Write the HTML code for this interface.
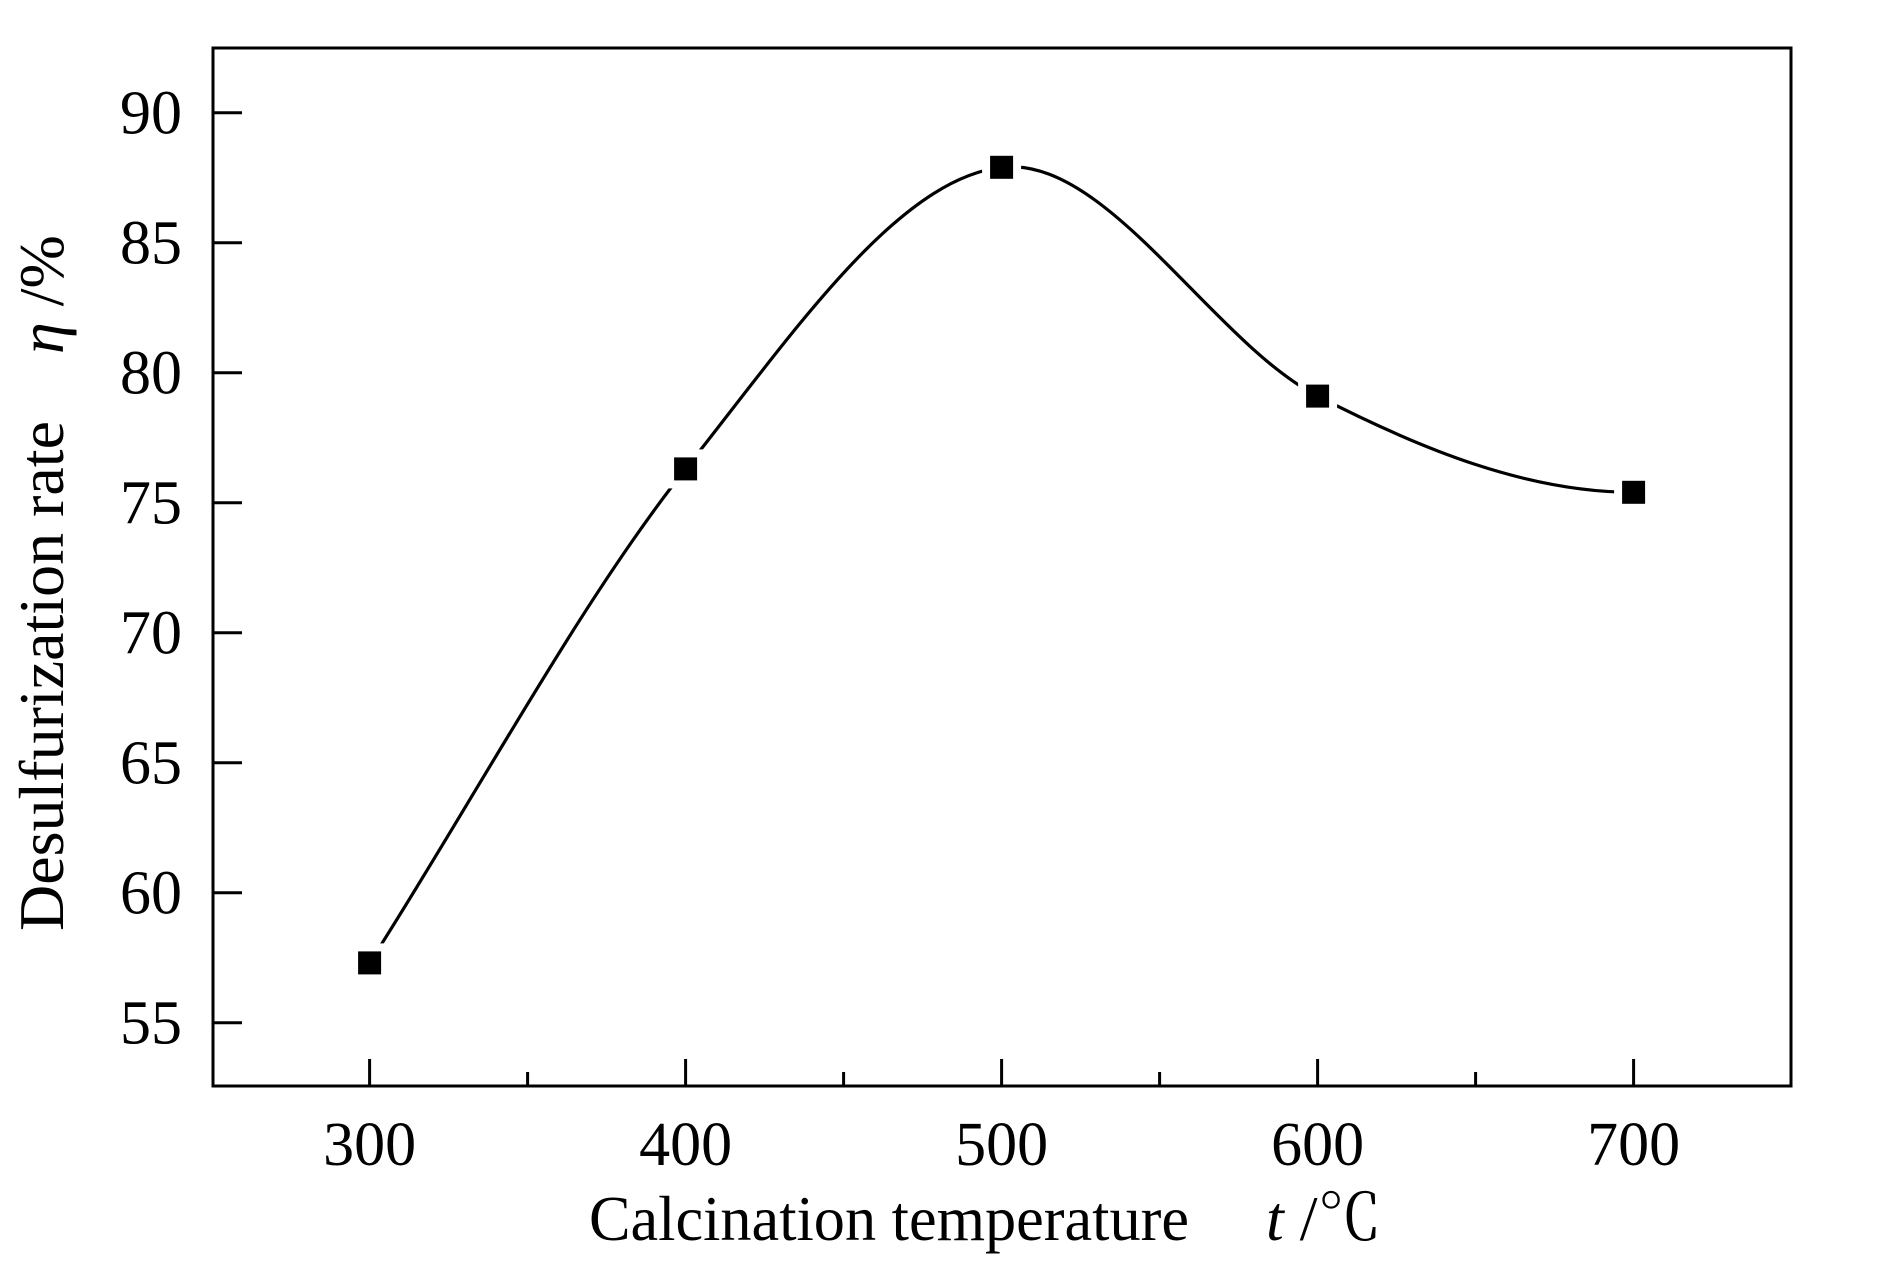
<!DOCTYPE html>
<html><head><meta charset="utf-8"><style>
html,body{margin:0;padding:0;background:#fff;}
svg{display:block;}
text{font-family:"Liberation Serif","Noto Serif CJK SC",serif;fill:#000;}
</style></head><body>
<svg id="chart" width="1890" height="1276" viewBox="0 0 1890 1276" xmlns="http://www.w3.org/2000/svg">
<rect x="0" y="0" width="1890" height="1276" fill="#fff"/>
<rect x="213" y="48" width="1578" height="1038" fill="none" stroke="#000" stroke-width="3"/>
<g id="axes"></g>
<g id="series"></g>
<text x="589" y="1240" font-size="64" textLength="600" lengthAdjust="spacingAndGlyphs">Calcination temperature</text>
<text x="1266" y="1240" font-size="64"><tspan font-style="italic">t</tspan> /℃</text>
<text transform="translate(63,931) rotate(-90)" font-size="64" textLength="510" lengthAdjust="spacingAndGlyphs">Desulfurization rate</text>
<text transform="translate(63,354) rotate(-90)" font-size="64"><tspan font-style="italic">η</tspan> /%</text>
</svg>
<script>
const categories = [300, 400, 500, 600, 700];
const rates = [57.3, 76.3, 87.9, 79.1, 75.4];
const xTicks = [300, 400, 500, 600, 700];
const xMinorTicks = [350, 450, 550, 650];
const yTicks = [55, 60, 65, 70, 75, 80, 85, 90];

const NS = "http://www.w3.org/2000/svg";
function xs(v){ return 369.6 + (v - 300) * 3.16; }
function ys(v){ return 112.7 + (90 - v) * 26; }
const axes = document.getElementById('axes');
const series = document.getElementById('series');
function mk(tag, attrs, parent){
  const e = document.createElementNS(NS, tag);
  for (const k in attrs) e.setAttribute(k, attrs[k]);
  parent.appendChild(e);
  return e;
}
xTicks.forEach(v => {
  const t = mk('line', {x1: xs(v), x2: xs(v), y1: 1086, y2: 1059, stroke: '#000', 'stroke-width': 3}, axes);
  
  
  const l = mk('text', {x: xs(v), y: 1165, 'font-size': 62, 'text-anchor': 'middle'}, axes);
  l.textContent = v;
  
  
});
xMinorTicks.forEach(v => {
  const t = mk('line', {x1: xs(v), x2: xs(v), y1: 1086, y2: 1072, stroke: '#000', 'stroke-width': 3}, axes);
  
  
});
yTicks.forEach(v => {
  const t = mk('line', {x1: 213, x2: 242, y1: ys(v), y2: ys(v), stroke: '#000', 'stroke-width': 3}, axes);
  
  
  const l = mk('text', {x: 182, y: ys(v) + 21, 'font-size': 62, 'text-anchor': 'end'}, axes);
  l.textContent = v;
  
  
});
// Cubic Hermite curve: interior tangents central differences, first end straight, last end flat
const pts = categories.map((c, i) => [xs(c), ys(rates[i])]);
const n = pts.length;
const tan = pts.map((p, i) => {
  if (i === 0) return (pts[1][1] - pts[0][1]) / (pts[1][0] - pts[0][0]);
  if (i === n - 1) return 0;
  return (pts[i + 1][1] - pts[i - 1][1]) / (pts[i + 1][0] - pts[i - 1][0]);
});
let d = 'M' + pts[0][0] + ',' + pts[0][1];
for (let i = 0; i < n - 1; i++) {
  const p1 = pts[i], p2 = pts[i + 1];
  const h = (p2[0] - p1[0]) / 3;
  d += ' C' + (p1[0] + h) + ',' + (p1[1] + tan[i] * h) + ' ' + (p2[0] - h) + ',' + (p2[1] - tan[i + 1] * h) + ' ' + p2[0] + ',' + p2[1];
}
const path = mk('path', {d: d, fill: 'none', stroke: '#000', 'stroke-width': 3.2}, series);


categories.forEach((c, i) => {
  const m = mk('rect', {x: xs(c) - 11.5, y: ys(rates[i]) - 11.5, width: 23, height: 23, fill: '#000', stroke: '#fff', 'stroke-width': 16, 'paint-order': 'stroke'}, series);
  
  
});
</script>
</body></html>
